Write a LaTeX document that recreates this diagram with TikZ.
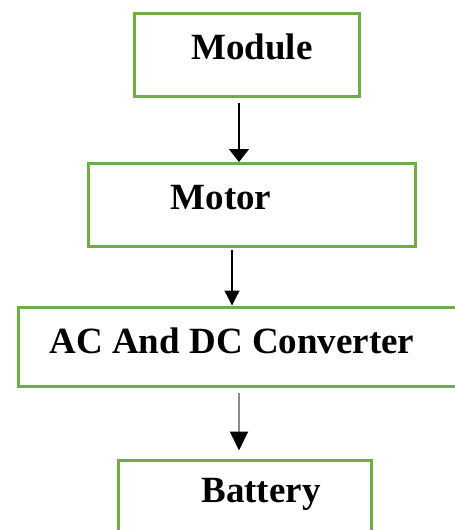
\documentclass[tikz,border=0pt]{standalone}
\usepackage{fontspec}
\setmainfont{Liberation Serif}
\usetikzlibrary{arrows.meta,calc}
\definecolor{boxgreen}{HTML}{70AD47}
\definecolor{arrgray}{HTML}{8C8C8C}
\tikzset{
  box/.style={draw=boxgreen, line width=3pt, rectangle, inner sep=0pt},
  lbl/.style={font=\bfseries\fontsize{37}{40}\selectfont, inner sep=0pt, anchor=center},
  conn/.style={line width=1.8pt, draw=black}
}
\begin{document}
\begin{tikzpicture}[x=1pt,y=-1pt]
\useasboundingbox (0,0) rectangle (455,530);
\clip (0,0) rectangle (455,530);
\fill[white] (0,0) rectangle (455,530);
% boxes
\node[box, minimum width=225pt, minimum height=83pt] (module) at (246.5,54.5) {};
\node[box, minimum width=327pt, minimum height=83pt] (motor) at (252,205) {};
\node[box, minimum width=460pt, minimum height=79pt] (conv) at (248,346.5) {};
\node[box, minimum width=253pt, minimum height=120pt] (batt) at (245,520) {};
% labels
\node[lbl] (tmodule) at (252,47) {Module};
\node[lbl] (tmotor) at (221,198) {Motor};
\node[lbl] (tconv) at (232,341) {AC And DC Converter};
\node[lbl] (tbatt) at (261,494) {Battery};
% connectors
\coordinate (s1) at (239,103);
\coordinate (s2) at (232,250);
\coordinate (s3) at (239,393);
\draw[conn, -{Triangle[width=20pt,length=13pt]}] (s1) -- (s1 |- motor.north);
\draw[conn, line width=1.3pt, -{Triangle[width=15pt,length=15pt]}] (s2) -- (s2 |- conv.north);
\draw[conn, draw=arrgray, line width=2pt, -{Triangle[width=18pt,length=19pt,fill=black,color=black]}] (s3) -- ($(s3 |- batt.north)+(0,-8)$);
\end{tikzpicture}
\end{document}
